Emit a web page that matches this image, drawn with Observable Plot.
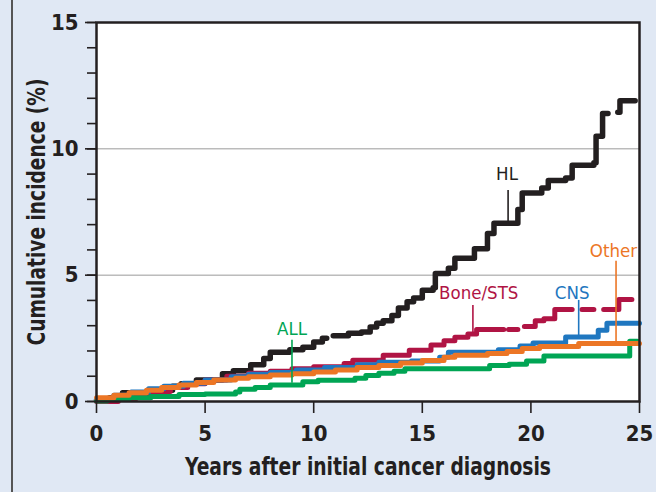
<!DOCTYPE html>
<html><head><meta charset="utf-8">
<script src="https://cdn.jsdelivr.net/npm/d3@7"></script>
<script src="https://cdn.jsdelivr.net/npm/@observablehq/plot@0.6"></script>
<style>
html,body{margin:0;padding:0;background:#e0e8f4;}
#wrap{position:relative;width:656px;height:492px;background:#e0e8f4;overflow:hidden;}
#wrap svg{position:absolute;left:0;top:0;}
#edge{position:absolute;left:11px;top:0;width:2px;height:492px;background:#555;}
</style></head><body><div id="wrap"></div>
<script>
// ---- data (years after diagnosis, cumulative incidence %) ----
const hlX = [0,0.6,1.2,2.5,3.5,3.9,4.6,5.8,6.3,7.1,7.7,8.0,8.9,9.5,10.0,10.4,10.6,10.75,10.9,11.6,12.2,12.6,12.9,13.2,13.6,13.9,14.3,14.6,15.0,15.5,15.6,16.2,16.5,17.4,18.0,18.3,19.4,19.6,20.5,20.8,21.6,21.9,22.9,23.0,23.3,23.55,23.8,24.0,24.1,24.8];
const hlY = [0.05,0.15,0.35,0.45,0.6,0.7,0.85,1.1,1.22,1.45,1.7,1.95,2.05,2.15,2.35,2.5,2.5,null,2.6,2.7,2.75,2.95,3.1,3.2,3.4,3.7,3.95,4.1,4.4,4.5,5.07,5.27,5.67,6.05,6.65,7.05,7.6,8.25,8.45,8.75,8.85,9.35,9.45,10.5,11.4,11.4,null,11.45,11.9,11.9];

const boneX = [0,1.0,1.8,2.6,3.4,4.2,5.0,6.0,7.0,8.0,9.0,10.0,11.4,11.8,13.2,14.4,15.4,16.0,16.5,17.1,17.5,18.75,18.85,18.97,19.4,19.55,19.7,20.2,20.6,21.1,21.9,22.1,22.35,22.9,23.1,23.35,24.05,24.65];
const boneY = [0.0,0.1,0.25,0.4,0.55,0.7,0.85,1.0,1.12,1.2,1.3,1.38,1.5,1.63,1.83,2.03,2.24,2.4,2.54,2.67,2.85,2.85,null,2.85,2.85,null,2.97,3.2,3.28,3.64,3.64,null,3.64,3.64,null,3.64,4.04,4.04];

const cnsX = [0,0.8,1.6,2.4,3.1,4.0,5.0,6.2,7.0,8.0,9.2,10.5,12.0,13.0,14.5,15.8,16.2,18.5,19.5,20.1,21.6,23.1,23.5,25];
const cnsY = [0.1,0.25,0.38,0.5,0.6,0.72,0.85,0.98,1.08,1.15,1.25,1.35,1.45,1.55,1.6,1.75,1.95,2.05,2.2,2.32,2.55,2.82,3.1,3.1];

const allX = [0,0.5,1.5,2.5,3.8,5.0,6.4,6.6,7.3,8.0,9.5,10.2,11.9,12.4,13.0,13.7,14.2,18.1,19.0,19.8,20.6,24.55,24.9];
const allY = [0.02,0.1,0.15,0.2,0.28,0.3,0.38,0.48,0.55,0.65,0.78,0.84,0.92,1.03,1.12,1.2,1.3,1.42,1.47,1.6,1.8,2.38,2.38];

const otherX = [0,0.8,1.5,2.3,3.0,3.8,4.6,5.4,6.4,7.0,8.0,9.0,10.0,11.0,12.0,13.0,14.0,15.0,16.0,16.5,18.0,18.9,19.6,20.4,22.2,25];
const otherY = [0.15,0.25,0.35,0.45,0.55,0.65,0.75,0.85,0.92,0.98,1.05,1.1,1.17,1.25,1.35,1.42,1.52,1.62,1.75,1.83,1.9,1.98,2.1,2.18,2.3,2.3];

const seriesNames  = ["HL","Bone/STS","CNS","ALL","Other"];
const seriesColors = ["#231f20","#b01444","#1f77c0","#00a554","#ec7625"];
const seriesWidths = [5.5,5,5,5,5];

// annotation labels and leader lines
const labelText  = ["HL","Bone/STS","CNS","Other","ALL"];
const labelX     = [18.9,17.6,21.9,23.8,9.0];
const labelY     = [9.0,4.3,4.3,5.95,2.85];
const leaderX    = [18.95,17.33,22.2,23.92,9.0];
const leaderY1   = [8.35,3.8,4.0,5.55,2.42];
const leaderY2   = [7.05,2.7,2.55,2.3,0.72];

const xTicks = [0,5,10,15,20,25];
const yTicks = [0,5,10,15];
const yMinor = d3.range(0,16);
const gridY  = [5,10];
const xTitle = "Years after initial cancer diagnosis";
const yTitle = "Cumulative incidence (%)";

// ---- build ----
const seriesData = {
  "HL": [hlX,hlY], "Bone/STS": [boneX,boneY], "CNS": [cnsX,cnsY], "ALL": [allX,allY], "Other": [otherX,otherY]
};
const rowsFor = name => seriesData[name][0].map((x,i)=>({x, y: seriesData[name][1][i]}));
const labels = labelText.map((t,i)=>({t, x: labelX[i], y: labelY[i], lx: leaderX[i], y1: leaderY1[i], y2: leaderY2[i],
  c: seriesColors[seriesNames.indexOf(t)]}));

const FONT = "'Liberation Sans Narrow','Arial Narrow','DejaVu Sans Condensed',sans-serif";
const INK = "#231f20";

const marks = [
  Plot.frame({fill:"white", stroke:null}),
  Plot.ruleY(gridY, {stroke:"#9a9a9a", strokeWidth:1}),
  ...seriesNames.map((n,i)=>Plot.line(rowsFor(n), {x:"x", y:"y", curve:"step-after",
      stroke: seriesColors[i], strokeWidth: seriesWidths[i], strokeLinecap:"round", strokeLinejoin:"round"})),
  Plot.ruleX(labels, {x:"lx", y1:"y1", y2:"y2", stroke:"c", strokeWidth:1.6}),
  Plot.text(labels, {x:"x", y:"y", text:"t", fill:"c", fontSize:18.5, fontFamily:FONT, textAnchor:"middle", lineAnchor:"middle"}),
  Plot.frame({stroke:INK, strokeWidth:2.5}),
  Plot.axisY(yMinor, {tickSize:9, tickFormat:()=>"", stroke:INK, strokeWidth:1.6, label:null}),
  Plot.axisY(yTicks, {tickSize:11, tickPadding:7, stroke:INK, strokeWidth:1.6, fill:INK, fontSize:22, fontWeight:"bold", label:null}),
  Plot.axisX(xTicks, {tickSize:12, tickPadding:12, stroke:INK, strokeWidth:1.6, fill:INK, fontSize:22, fontWeight:"bold", label:null}),
  Plot.text([yTitle], {frameAnchor:"left", dx:-59, rotate:-90, text:d=>d, fontSize:24, fontWeight:"bold", fill:INK, textAnchor:"middle", lineAnchor:"middle"}),
  Plot.text([xTitle], {frameAnchor:"bottom", dy:66, text:d=>d, fontSize:24, fontWeight:"bold", fill:INK, textAnchor:"middle", lineAnchor:"middle"})
];

const chart = Plot.plot({
  width:656, height:492,
  marginLeft:96, marginRight:17, marginTop:22, marginBottom:91,
  x:{domain:[0,25], axis:null},
  y:{domain:[0,15], axis:null},
  color:{type:"identity"},
  style:{fontFamily:FONT, background:"transparent", overflow:"visible"},
  marks
});
// condense the axis titles to the reference's narrow type
chart.querySelectorAll("text").forEach(t => {
  if (t.textContent === xTitle) { t.setAttribute("textLength", 366); t.setAttribute("lengthAdjust", "spacingAndGlyphs"); }
  if (t.textContent === yTitle) { t.setAttribute("textLength", 267); t.setAttribute("lengthAdjust", "spacingAndGlyphs"); }
});
const wrap = document.getElementById("wrap");
wrap.appendChild(chart);
const edge = document.createElement("div"); edge.id = "edge"; wrap.appendChild(edge);
</script></body></html>
